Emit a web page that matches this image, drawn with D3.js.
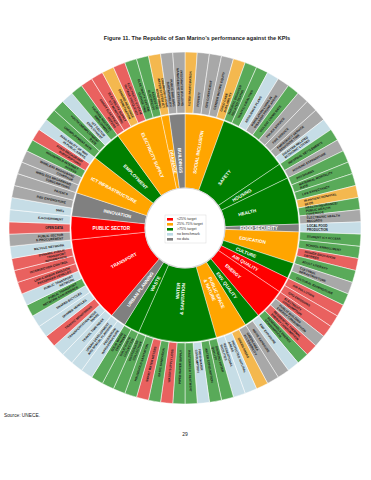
<!DOCTYPE html>
<html>
<head>
<meta charset="utf-8">
<script src="https://cdn.jsdelivr.net/npm/d3@7"></script>
<style>
  body { margin: 0; background: #fff; }
  svg { display: block; }
</style>
</head>
<body>
<div id="chart"></div>
<script>
// Catégories (anneau intérieur), dans le sens horaire depuis midi
const categories = [
  "SOCIAL INCLUSION", "SAFETY", "HOUSING", "HEALTH", "FOOD SECURITY", "EDUCATION",
  "CULTURE", "AIR QUALITY", "ENERGY", "ENV. QUALITY", "PUBLIC SPACE & NATURE",
  "WATER & SANITATION", "WASTE", "URBAN PLANNING", "TRANSPORT", "PUBLIC SECTOR",
  "INNOVATION", "ICT INFRASTRUCTURE", "EMPLOYMENT", "ELECTRICITY SUPPLY", "DRAINAGE", "BUILDINGS"
];
// low = <25%, mid = 25%-75%, high = >75%, nb = no benchmark, nd = no data
const categoryStatus = [
  "mid", "high", "high", "high", "nd", "mid",
  "high", "low", "low", "high", "mid",
  "high", "high", "nd", "low", "low",
  "nd", "mid", "high", "mid", "mid", "nd"
];

// KPI (anneau extérieur), un tableau par catégorie
const kpiNames = [
  ["VOTER PARTICIPATION", "POVERTY", "GINI COEFFICIENT", "GENDER INCOME EQUITY", "CHILD CARE AVAILABILITY"],
  ["NATURAL DISASTER RELATED DEATHS", "TRAFFIC FATALITIES", "RESILIENCE PLANS", "POPULATION LIVING IN DISASTER PRONE AREAS",
   "VIOLENT CRIME RATE", "POLICE SERVICE", "FIRE SERVICE", "EMERGENCY SERVICE RESPONSE TIME", "DISASTER RELATED ECONOMIC LOSSES"],
  ["INFORMAL SETTLEMENTS", "HOUSING EXPENDITURE"],
  ["PHYSICIANS", "MATERNAL MORTALITY RATE", "LIFE EXPECTANCY", "IN-PATIENT HOSPITAL BEDS",
   "HEALTH INSURANCE/ PUBLIC HEALTH COVERAGE", "ELECTRONIC HEALTH RECORDS"],
  ["LOCAL FOOD PRODUCTION"],
  ["STUDENT ICT ACCESS", "SCHOOL ENROLLMENT", "HIGHER EDUCATION DEGREES", "ADULT LITERACY"],
  ["CULTURAL INFRASTRUCTURE", "CULTURAL EXPENDITURE"],
  ["AIR POLLUTION", "GHG EMISSIONS"],
  ["ELECTRICITY CONSUMPTION", "PUBLIC BUILDING ENERGY CONSUMPTION", "RESIDENTIAL THERMAL ENERGY CONSUMPTION", "RENEWABLE ENERGY CONSUMPTION"],
  ["EMF EXPOSURE", "NOISE EXPOSURE"],
  ["GREEN AREA ACCESSIBILITY", "GREEN AREAS", "PROTECTED NATURAL AREAS", "RECREATIONAL FACILITIES"],
  ["DRINKING WATER QUALITY", "WATER CONSUMPTION", "FRESHWATER CONSUMPTION", "WASTEWATER TREATMENT", "PIPED WATER SUPPLY",
   "WATER SUPPLY LOSS", "BASIC SANITATION", "SMART WATER METERS", "HOUSEHOLD SANITATION", "WASTEWATER COLLECTION"],
  ["SOLID WASTE COLLECTION", "SOLID WASTE TREATMENT"],
  ["PEDESTRIAN INFRASTRUCTURE", "URBAN DEVELOPMENT AND SPATIAL PLANNING"],
  ["TRAVEL TIME INDEX", "TRANSPORTATION MODE SHARE", "TRAFFIC MONITORING", "SHARED VEHICLES", "SHARED BICYCLES",
   "PUBLIC TRANSPORT NETWORK CONVENIENCE", "PUBLIC TRANSPORT NETWORK", "LOW-CARBON EMISSION PASSENGER VEHICLES",
   "INTERSECTION CONTROL", "DYNAMIC PUBLIC TRANSPORT INFORMATION", "BICYCLE NETWORK"],
  ["PUBLIC SECTOR E-PROCUREMENT", "OPEN DATA", "E-GOVERNMENT"],
  ["SMEs", "R&D EXPENDITURE", "PATENTS"],
  ["WIRELESS BROADBAND SUBSCRIPTIONS", "WIRELESS BROADBAND COVERAGE", "HOUSEHOLD INTERNET ACCESS",
   "FIXED BROADBAND SUBSCRIPTIONS", "AVAILABILITY OF WIFI IN PUBLIC AREAS"],
  ["UNEMPLOYMENT RATE", "YOUTH UNEMPLOYMENT RATE", "ICT SECTOR EMPLOYMENT", "TOURISM INDUSTRY EMPLOYMENT"],
  ["SMART ELECTRICITY METERS", "ELECTRICITY SUPPLY ICT MONITORING", "DEMAND RESPONSE PENETRATION",
   "ELECTRICITY SYSTEM OUTAGE FREQUENCY", "ELECTRICITY SYSTEM OUTAGE TIME", "ACCESS TO ELECTRICITY"],
  ["DRAINAGE/ STORM WATER SYSTEM ICT MONITORING"],
  ["PUBLIC BUILDING SUSTAINABILITY", "INTEGRATED BUILDING MANAGEMENT SYSTEMS"]
];
const kpiStatus = [
  ["mid", "nd", "nd", "nd", "mid"],
  ["high", "high", "nb", "nd", "high", "nd", "nd", "nd", "nb"],
  ["high", "nd"],
  ["high", "high", "high", "mid", "high", "nd"],
  ["nb"],
  ["high", "high", "low", "high"],
  ["nd", "high"],
  ["low", "low"],
  ["low", "nd", "low", "high"],
  ["nb", "nd"],
  ["nd", "mid", "nb", "nb"],
  ["high", "high", "nb", "high", "high", "low", "high", "low", "high", "high"],
  ["high", "high"],
  ["nb", "nb"],
  ["nb", "nb", "low", "nb", "nb", "high", "nb", "low", "low", "low", "nb"],
  ["nd", "low", "nb"],
  ["nb", "nd", "nd"],
  ["nd", "nd", "high", "low", "nb"],
  ["high", "high", "nb", "high"],
  ["low", "low", "mid", "low", "high", "high"],
  ["mid"],
  ["nd", "nd"]
];

// Légende
const statusKeys = ["low", "mid", "high", "nb", "nd"];
const legendLabels = ["<25% target", "25%-75% target", ">75% target", "no benchmark", "no data"];

// Dimensions
const width = 371, height = 480;
const cx = 185, cy = 228;

const innerColor = d3.scaleOrdinal()
    .domain(statusKeys)
    .range(["#ff0000", "#ffa500", "#008000", "#bcd9e4", "#808080"]);
const outerColor = d3.scaleOrdinal()
    .domain(statusKeys)
    .range(["#e9615f", "#f4b84f", "#59aa59", "#c6dde6", "#a8a8a8"]);

const svg = d3.select("#chart")
    .append("svg")
    .attr("width", width)
    .attr("height", height)
    .style("font-family", "'Liberation Sans', Arial, sans-serif");

// Titre
svg.append("text")
    .attr("x", 197)
    .attr("y", 40)
    .attr("text-anchor", "middle")
    .attr("font-weight", "bold")
    .attr("font-size", 5.6)
    .attr("fill", "#222")
    .text("Figure 11. The Republic of San Marino’s performance against the KPIs");

// Hiérarchie + partition
const root = d3.hierarchy({
    children: categories.map((c, i) => ({
        name: c,
        status: categoryStatus[i],
        children: kpiNames[i].map((k, j) => ({ name: k, status: kpiStatus[i][j] }))
    }))
}).sum(d => d.children ? 0 : 1);

d3.partition().size([2 * Math.PI, 3])(root);

const radius = d3.scaleLinear().domain([1, 2, 3]).range([40, 114, 176]);

const arc = d3.arc()
    .startAngle(d => d.x0)
    .endAngle(d => d.x1)
    .innerRadius(d => radius(d.y0) + (d.depth === 2 ? 1 : 0))
    .outerRadius(d => radius(d.y1));

const g = svg.append("g").attr("transform", `translate(${cx},${cy})`);

const nodes = root.descendants().filter(d => d.depth > 0);

g.selectAll("path")
    .data(nodes)
    .join("path")
    .attr("d", arc)
    .attr("fill", d => d.depth === 1 ? innerColor(d.data.status) : outerColor(d.data.status))
    .attr("stroke", "#fff")
    .attr("stroke-width", d => d.depth === 1 ? 0.4 : 0.5);

// Cercle central
g.append("circle")
    .attr("r", 40)
    .attr("fill", "#fff")
    .attr("stroke", "#d8d8d8")
    .attr("stroke-width", 1.2);

// Découpage des libellés
function wrap(text, maxChars) {
    const words = text.split(" ");
    const lines = [];
    let line = "";
    words.forEach(w => {
        if (line && (line + " " + w).length > maxChars) {
            lines.push(line);
            line = w;
        } else {
            line = line ? line + " " + w : w;
        }
    });
    if (line) lines.push(line);
    return lines;
}

function placeLabel(sel, r) {
    sel.attr("transform", d => {
        const a = (d.x0 + d.x1) / 2 * 180 / Math.PI;
        return `rotate(${a - 90}) translate(${r},0) rotate(${a < 180 ? 0 : 180})`;
    })
    .attr("text-anchor", d => ((d.x0 + d.x1) / 2 * 180 / Math.PI) < 180 ? "start" : "end");
}

// Libellés intérieurs
const innerLabels = g.append("g")
    .selectAll("text")
    .data(root.children)
    .join("text")
    .attr("fill", "#fff")
    .attr("font-weight", "bold")
    .attr("font-size", 4.6)
    .call(placeLabel, 55);

innerLabels.each(function(d) {
    const lines = d.data.name.includes(" & ")
        ? [d.data.name.split(" & ")[0], "& " + d.data.name.split(" & ")[1]]
        : [d.data.name];
    d3.select(this).selectAll("tspan")
        .data(lines)
        .join("tspan")
        .attr("x", 0)
        .attr("y", (l, i) => (i - (lines.length - 1) / 2) * 5.2 + 1.6)
        .text(l => l);
});

// Libellés extérieurs
const outerLabels = g.append("g")
    .selectAll("text")
    .data(root.leaves())
    .join("text")
    .attr("fill", "#1a1a1a")
    .attr("font-weight", "bold")
    .attr("font-size", 3.1)
    .call(placeLabel, 122);

outerLabels.each(function(d) {
    const lines = wrap(d.data.name, 20);
    d3.select(this).selectAll("tspan")
        .data(lines)
        .join("tspan")
        .attr("x", 0)
        .attr("y", (l, i) => (i - (lines.length - 1) / 2) * 3.5 + 1.1)
        .text(l => l);
});

// Légende centrale
const legend = svg.append("g").attr("transform", "translate(165,215)");
legend.append("rect")
    .attr("width", 41)
    .attr("height", 28)
    .attr("fill", "#fff")
    .attr("stroke", "#cfcfcf")
    .attr("stroke-width", 0.4);

const items = legend.selectAll("g.item")
    .data(statusKeys)
    .join("g")
    .attr("class", "item")
    .attr("transform", (d, i) => `translate(2,${3 + i * 5})`);

items.append("rect")
    .attr("width", 6)
    .attr("height", 2.6)
    .attr("fill", d => innerColor(d));

items.append("text")
    .attr("x", 10)
    .attr("y", 2.4)
    .attr("font-size", 3.6)
    .attr("fill", "#333")
    .text((d, i) => legendLabels[i]);

// Source et numéro de page
svg.append("text")
    .attr("x", 4)
    .attr("y", 417)
    .attr("font-size", 4.8)
    .attr("fill", "#222")
    .text("Source: UNECE.");

svg.append("text")
    .attr("x", 185)
    .attr("y", 436)
    .attr("text-anchor", "middle")
    .attr("font-size", 5)
    .attr("fill", "#222")
    .text("29");
</script>
</body>
</html>
